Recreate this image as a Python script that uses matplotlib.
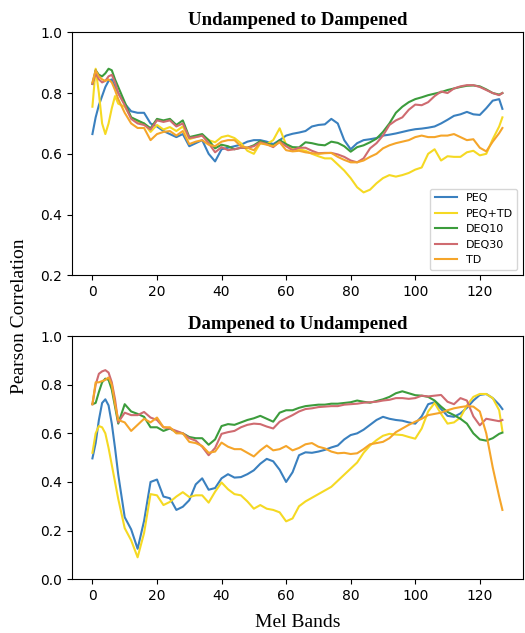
import matplotlib
matplotlib.use('Agg')
import matplotlib.pyplot as plt

# mel band positions the values were read at
mel_bands = [0, 1, 2, 3, 4, 5, 6, 7] + list(range(8, 127, 2)) + [127]

labels = ['PEQ', 'PEQ+TD', 'DEQ10', 'DEQ30', 'TD']
colors = ['#3a80bf', '#f5d923', '#3c9c3c', '#cf6b70', '#f5a52a']

# ---- Undampened to Dampened ----
u2d_peq = [0.665, 0.72, 0.76, 0.79, 0.82, 0.84, 0.845, 0.82,
           0.80, 0.765, 0.74, 0.735, 0.735, 0.70, 0.69, 0.675, 0.665, 0.655,
           0.665, 0.625, 0.635, 0.645, 0.60, 0.575, 0.615, 0.62, 0.625, 0.63,
           0.64, 0.645, 0.645, 0.64, 0.632, 0.645, 0.66, 0.666, 0.67, 0.675,
           0.69, 0.695, 0.697, 0.715, 0.70, 0.645, 0.615, 0.635, 0.645, 0.648,
           0.652, 0.66, 0.663, 0.667, 0.672, 0.677, 0.681, 0.683, 0.686, 0.69,
           0.70, 0.712, 0.725, 0.73, 0.738, 0.73, 0.728, 0.75, 0.775, 0.78,
           0.748]
u2d_peq_td = [0.755, 0.88, 0.80, 0.70, 0.665, 0.70, 0.75, 0.79,
              0.765, 0.755, 0.72, 0.705, 0.70, 0.672, 0.695, 0.68, 0.688, 0.675,
              0.69, 0.648, 0.655, 0.66, 0.645, 0.638, 0.655, 0.66, 0.652, 0.635,
              0.61, 0.60, 0.635, 0.632, 0.645, 0.684, 0.63, 0.615, 0.615, 0.61,
              0.60, 0.592, 0.585, 0.585, 0.565, 0.545, 0.52, 0.49, 0.473, 0.482,
              0.503, 0.52, 0.53, 0.525, 0.53, 0.537, 0.548, 0.555, 0.60, 0.615,
              0.578, 0.592, 0.59, 0.59, 0.605, 0.61, 0.595, 0.60, 0.648, 0.69,
              0.72]
u2d_deq10 = [0.83, 0.875, 0.86, 0.855, 0.865, 0.88, 0.875, 0.845,
             0.82, 0.77, 0.72, 0.71, 0.70, 0.684, 0.715, 0.71, 0.715, 0.695,
             0.71, 0.655, 0.66, 0.665, 0.645, 0.618, 0.63, 0.625, 0.615, 0.62,
             0.62, 0.628, 0.642, 0.635, 0.626, 0.645, 0.632, 0.622, 0.621, 0.638,
             0.635, 0.63, 0.628, 0.64, 0.636, 0.625, 0.607, 0.622, 0.628, 0.638,
             0.65, 0.672, 0.70, 0.735, 0.755, 0.77, 0.78, 0.786, 0.793, 0.798,
             0.803, 0.81, 0.815, 0.82, 0.824, 0.825, 0.822, 0.812, 0.80, 0.795,
             0.80]
u2d_deq30 = [0.83, 0.865, 0.845, 0.835, 0.84, 0.855, 0.86, 0.835,
             0.80, 0.76, 0.715, 0.70, 0.695, 0.68, 0.71, 0.705, 0.71, 0.69,
             0.70, 0.652, 0.655, 0.66, 0.635, 0.605, 0.622, 0.612, 0.615, 0.62,
             0.62, 0.625, 0.638, 0.632, 0.622, 0.64, 0.625, 0.612, 0.62, 0.62,
             0.61, 0.602, 0.603, 0.603, 0.598, 0.59, 0.578, 0.572, 0.585, 0.618,
             0.635, 0.66, 0.695, 0.71, 0.72, 0.745, 0.762, 0.76, 0.77, 0.79,
             0.805, 0.80, 0.815, 0.822, 0.826, 0.826, 0.82, 0.81, 0.80, 0.793,
             0.80]
u2d_td = [0.835, 0.875, 0.855, 0.845, 0.84, 0.845, 0.835, 0.81,
          0.78, 0.735, 0.70, 0.685, 0.685, 0.645, 0.665, 0.672, 0.675, 0.66,
          0.675, 0.632, 0.64, 0.645, 0.63, 0.625, 0.64, 0.645, 0.645, 0.625,
          0.62, 0.612, 0.635, 0.63, 0.625, 0.638, 0.612, 0.608, 0.61, 0.605,
          0.602, 0.60, 0.602, 0.603, 0.59, 0.58, 0.572, 0.572, 0.578, 0.59,
          0.60, 0.618, 0.628, 0.635, 0.64, 0.645, 0.655, 0.66, 0.655, 0.655,
          0.66, 0.66, 0.665, 0.655, 0.645, 0.648, 0.62, 0.608, 0.64, 0.668,
          0.685]

# ---- Dampened to Undampened ----
d2u_peq = [0.497, 0.56, 0.655, 0.725, 0.74, 0.715, 0.64, 0.54,
           0.43, 0.255, 0.205, 0.125, 0.24, 0.40, 0.41, 0.34, 0.333, 0.285,
           0.298, 0.325, 0.39, 0.415, 0.368, 0.375, 0.415, 0.432, 0.418, 0.42,
           0.432, 0.448, 0.475, 0.495, 0.485, 0.45, 0.40, 0.44, 0.51, 0.522,
           0.52, 0.525, 0.532, 0.542, 0.55, 0.575, 0.593, 0.60, 0.615, 0.635,
           0.655, 0.668, 0.66, 0.655, 0.652, 0.645, 0.64, 0.67, 0.72, 0.728,
           0.70, 0.672, 0.668, 0.682, 0.705, 0.735, 0.758, 0.762, 0.745, 0.718,
           0.70]
d2u_peq_td = [0.52, 0.60, 0.63, 0.625, 0.60, 0.54, 0.47, 0.40,
              0.33, 0.21, 0.16, 0.09, 0.19, 0.35, 0.345, 0.305, 0.318, 0.34,
              0.358, 0.338, 0.345, 0.345, 0.315, 0.36, 0.398, 0.37, 0.35, 0.345,
              0.32, 0.29, 0.305, 0.29, 0.285, 0.275, 0.238, 0.25, 0.30, 0.32,
              0.335, 0.35, 0.365, 0.38, 0.405, 0.43, 0.455, 0.48, 0.52, 0.55,
              0.572, 0.59, 0.598, 0.595, 0.593, 0.585, 0.578, 0.62, 0.69, 0.725,
              0.68, 0.64, 0.645, 0.665, 0.715, 0.75, 0.762, 0.762, 0.745, 0.695,
              0.61]
d2u_deq10 = [0.72, 0.725, 0.77, 0.81, 0.825, 0.82, 0.78, 0.71,
             0.64, 0.72, 0.69, 0.68, 0.668, 0.625, 0.625, 0.61, 0.62, 0.605,
             0.60, 0.585, 0.58, 0.58, 0.553, 0.575, 0.63, 0.638, 0.635, 0.645,
             0.655, 0.662, 0.672, 0.66, 0.648, 0.685, 0.695, 0.695, 0.705, 0.712,
             0.715, 0.718, 0.718, 0.722, 0.722, 0.725, 0.728, 0.735, 0.73, 0.726,
             0.733, 0.74, 0.75, 0.765, 0.773, 0.765, 0.757, 0.755, 0.75, 0.735,
             0.71, 0.688, 0.675, 0.66, 0.64, 0.60, 0.575, 0.57, 0.58, 0.598,
             0.603]
d2u_deq30 = [0.72, 0.80, 0.845, 0.855, 0.86, 0.85, 0.81, 0.74,
             0.645, 0.685, 0.675, 0.675, 0.688, 0.665, 0.655, 0.625, 0.62, 0.61,
             0.60, 0.58, 0.57, 0.545, 0.51, 0.54, 0.598, 0.605, 0.61, 0.625,
             0.635, 0.64, 0.638, 0.628, 0.62, 0.648, 0.662, 0.675, 0.69, 0.70,
             0.703, 0.708, 0.71, 0.712, 0.712, 0.718, 0.72, 0.722, 0.726, 0.728,
             0.73, 0.735, 0.738, 0.745, 0.745, 0.742, 0.745, 0.755, 0.752, 0.755,
             0.758, 0.73, 0.72, 0.745, 0.735, 0.67, 0.633, 0.66, 0.655, 0.65,
             0.655]
d2u_td = [0.72, 0.81, 0.81, 0.815, 0.82, 0.83, 0.80, 0.72,
          0.655, 0.645, 0.61, 0.635, 0.66, 0.645, 0.665, 0.625, 0.625, 0.60,
          0.60, 0.565, 0.56, 0.548, 0.52, 0.525, 0.562, 0.545, 0.535, 0.535,
          0.52, 0.505, 0.53, 0.55, 0.53, 0.535, 0.548, 0.53, 0.54, 0.555,
          0.56, 0.545, 0.538, 0.525, 0.518, 0.52, 0.515, 0.518, 0.535, 0.555,
          0.56, 0.565, 0.58, 0.605, 0.62, 0.635, 0.648, 0.66, 0.675, 0.68,
          0.685, 0.695, 0.703, 0.708, 0.712, 0.71, 0.69, 0.60, 0.46, 0.34,
          0.285]

y_ticks = [0.0, 0.2, 0.4, 0.6, 0.8, 1.0]

panels = [
    ('Undampened to Dampened', [u2d_peq, u2d_peq_td, u2d_deq10, u2d_deq30, u2d_td], (0.2, 1.0)),
    ('Dampened to Undampened', [d2u_peq, d2u_peq_td, d2u_deq10, d2u_deq30, d2u_td], (0.0, 1.0)),
]

fig = plt.figure(figsize=(5.25, 6.33), dpi=100)
ax_top = fig.add_axes([0.137, 0.565, 0.859, 0.384])
ax_bot = fig.add_axes([0.137, 0.085, 0.859, 0.384])

for ax, (title, series, ylim) in zip([ax_top, ax_bot], panels):
    for vals, lab, col in zip(series, labels, colors):
        ax.plot(mel_bands, vals, color=col, lw=1.5, label=lab)
    ax.set_ylim(*ylim)
    ax.set_yticks([t for t in y_ticks if t >= ylim[0]])
    ax.set_xticks([0, 20, 40, 60, 80, 100, 120])
    ax.tick_params(labelsize=10)
    ax.set_title(title, family='Liberation Serif', fontweight='bold',
                 fontsize=13.5, pad=5)

ax_top.legend(loc='lower right', fontsize=8)
ax_bot.set_xlabel('Mel Bands', family='Liberation Serif', fontsize=14,
                  labelpad=8)
fig.text(0.038, 0.5, 'Pearson Correlation', family='Liberation Serif',
         fontsize=14, rotation=90, va='center', ha='center')

fig.savefig('out.png', dpi=100)
